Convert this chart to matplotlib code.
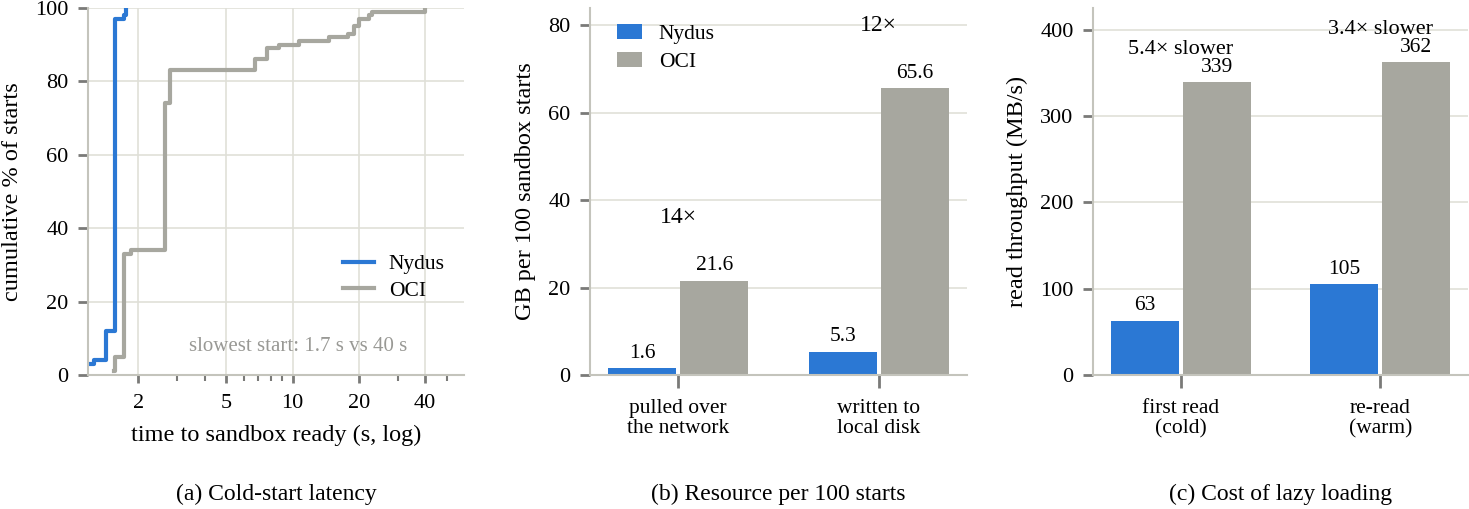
import numpy as np
import matplotlib
matplotlib.use("Agg")
import matplotlib.pyplot as plt
from matplotlib.ticker import FixedLocator, NullFormatter

plt.rcParams['font.family'] = ['Liberation Serif', 'DejaVu Serif']
plt.rcParams['font.size'] = 15

BLUE = '#2B78D4'
GRAY = '#A7A79F'
SPINE = '#C4C4BC'
GRID = '#E0E0D8'
TICK = '#7A7A78'

# (a) cold-start ECDF, step points
nydus_t = [1.21, 1.25, 1.42, 1.57, 1.71, 1.75]
nydus_pct = [3, 4, 12, 97, 98, 100]
oci_t = [1.55, 1.57, 1.71, 1.84, 2.65, 2.79, 6.73, 7.69, 8.69, 10.7,
         14.7, 17.8, 19.1, 20.1, 22.3, 23.0, 40.0]
oci_pct = [1, 5, 33, 34, 74, 83, 86, 89, 90, 91, 92, 93, 95, 97, 98, 99, 100]

# (b) resource per 100 starts
res_cats = ['pulled over\nthe network', 'written to\nlocal disk']
res_nydus = [1.6, 5.3]
res_oci = [21.6, 65.6]
res_ratio = ['14\u00d7', '12\u00d7']

# (c) lazy loading throughput
thr_cats = ['first read\n(cold)', 're-read\n(warm)']
thr_nydus = [63, 105]
thr_oci = [339, 362]
thr_ratio = ['5.4\u00d7 slower', '3.4\u00d7 slower']

fig = plt.figure(figsize=(14.69, 5.09), dpi=100)
W, H = 1469, 509
def px_axes(l, r, t=8, b=375):
    return fig.add_axes([l / W, (H - b) / H, (r - l) / W, (b - t) / H])

ax1 = px_axes(88, 464)
ax2 = px_axes(590, 967)
ax3 = px_axes(1093, 1468)

def style(ax):
    for s in ('top', 'right'):
        ax.spines[s].set_visible(False)
    for s in ('left', 'bottom'):
        ax.spines[s].set_color(SPINE)
        ax.spines[s].set_linewidth(1.5)
    ax.tick_params(axis='both', color=TICK, width=2, length=7, labelsize=16)
    ax.tick_params(axis='y', pad=7)
    ax.set_axisbelow(True)

# ---- (a)
style(ax1)
ax1.set_xscale('log')
ax1.plot(nydus_t, nydus_pct, drawstyle='steps-post', color=BLUE, lw=3, label='Nydus')
ax1.plot(oci_t, oci_pct, drawstyle='steps-post', color=GRAY, lw=3, label='OCI')
ax1.set_xlim(1.18, 60)
ax1.set_ylim(0, 100)
ax1.xaxis.set_major_locator(FixedLocator([2, 5, 10, 20, 40]))
ax1.xaxis.set_minor_locator(FixedLocator([3, 4, 6, 7, 8, 9, 30, 50]))
ax1.xaxis.set_minor_formatter(NullFormatter())
ax1.set_xticklabels(['2', '5', '10', '20', '40'])
ax1.tick_params(axis='x', which='major', length=6, pad=8)
ax1.tick_params(axis='x', which='minor', color=TICK, width=1.5, length=4)
ax1.set_yticks([0, 20, 40, 60, 80, 100])
ax1.grid(True, which='major', color=GRID, lw=1.2)
ax1.set_xlabel('time to sandbox ready (s, log)', fontsize=17.5, labelpad=8)
ax1.set_ylabel('cumulative % of starts', fontsize=17.5, labelpad=9)
ax1.legend(loc='lower right', bbox_to_anchor=(1.0, 0.15), frameon=False, fontsize=15.5,
           handlelength=1.4, handletextpad=0.7, labelspacing=0.3)
ax1.text(0.56, 0.077, 'slowest start: 1.7 s vs 40 s', transform=ax1.transAxes,
         ha='center', va='center', color='#999995', fontsize=15)

# ---- bar panels
def bars(ax, cats, nyd, oci, ratio, ratio_y, ylim, yticks, ylabel, fmt, show_legend, ratio_fs):
    style(ax)
    x = np.arange(len(cats))
    w, off = 0.34, 0.18
    ax.bar(x - off, nyd, w, color=BLUE, label='Nydus')
    ax.bar(x + off, oci, w, color=GRAY, label='OCI')
    for i in range(len(cats)):
        ax.text(x[i] - off, nyd[i] + ylim * 0.015, fmt(nyd[i]), ha='center', va='bottom', fontsize=15.5)
        ax.text(x[i] + off, oci[i] + ylim * 0.015, fmt(oci[i]), ha='center', va='bottom', fontsize=15.5)
        ax.text(x[i], ratio_y[i], ratio[i], ha='center', va='center', fontsize=ratio_fs)
    ax.set_xlim(-0.44, 1.44)
    ax.set_ylim(0, ylim)
    ax.set_xticks(x)
    ax.set_xticklabels(cats, fontsize=15.5, linespacing=1.1)
    ax.tick_params(axis='x', length=9, pad=8)
    ax.set_yticks(yticks)
    ax.grid(True, axis='y', color=GRID, lw=1.2)
    ax.set_ylabel(ylabel, fontsize=17.5, labelpad=9)
    if show_legend:
        ax.legend(loc='upper left', bbox_to_anchor=(0.02, 1.01), frameon=False, fontsize=15.5,
                  handlelength=1.15, handleheight=0.75, handletextpad=0.8, labelspacing=0.35)

bars(ax2, res_cats, res_nydus, res_oci, res_ratio, [36, 80], 84, [0, 20, 40, 60, 80],
     'GB per 100 sandbox starts', lambda v: f'{v:.1f}', True, 17)
bars(ax3, thr_cats, thr_nydus, thr_oci, thr_ratio, [377, 400], 425, [0, 100, 200, 300, 400],
     'read throughput (MB/s)', lambda v: f'{v:d}', False, 16)

# captions
for ax, cap in ((ax1, '(a) Cold-start latency'), (ax2, '(b) Resource per 100 starts'),
                (ax3, '(c) Cost of lazy loading')):
    b = ax.get_position()
    fig.text(b.x0 + b.width / 2, 1 - 494 / H, cap, ha='center', va='center', fontsize=17)

fig.savefig('out.png', dpi=100)
